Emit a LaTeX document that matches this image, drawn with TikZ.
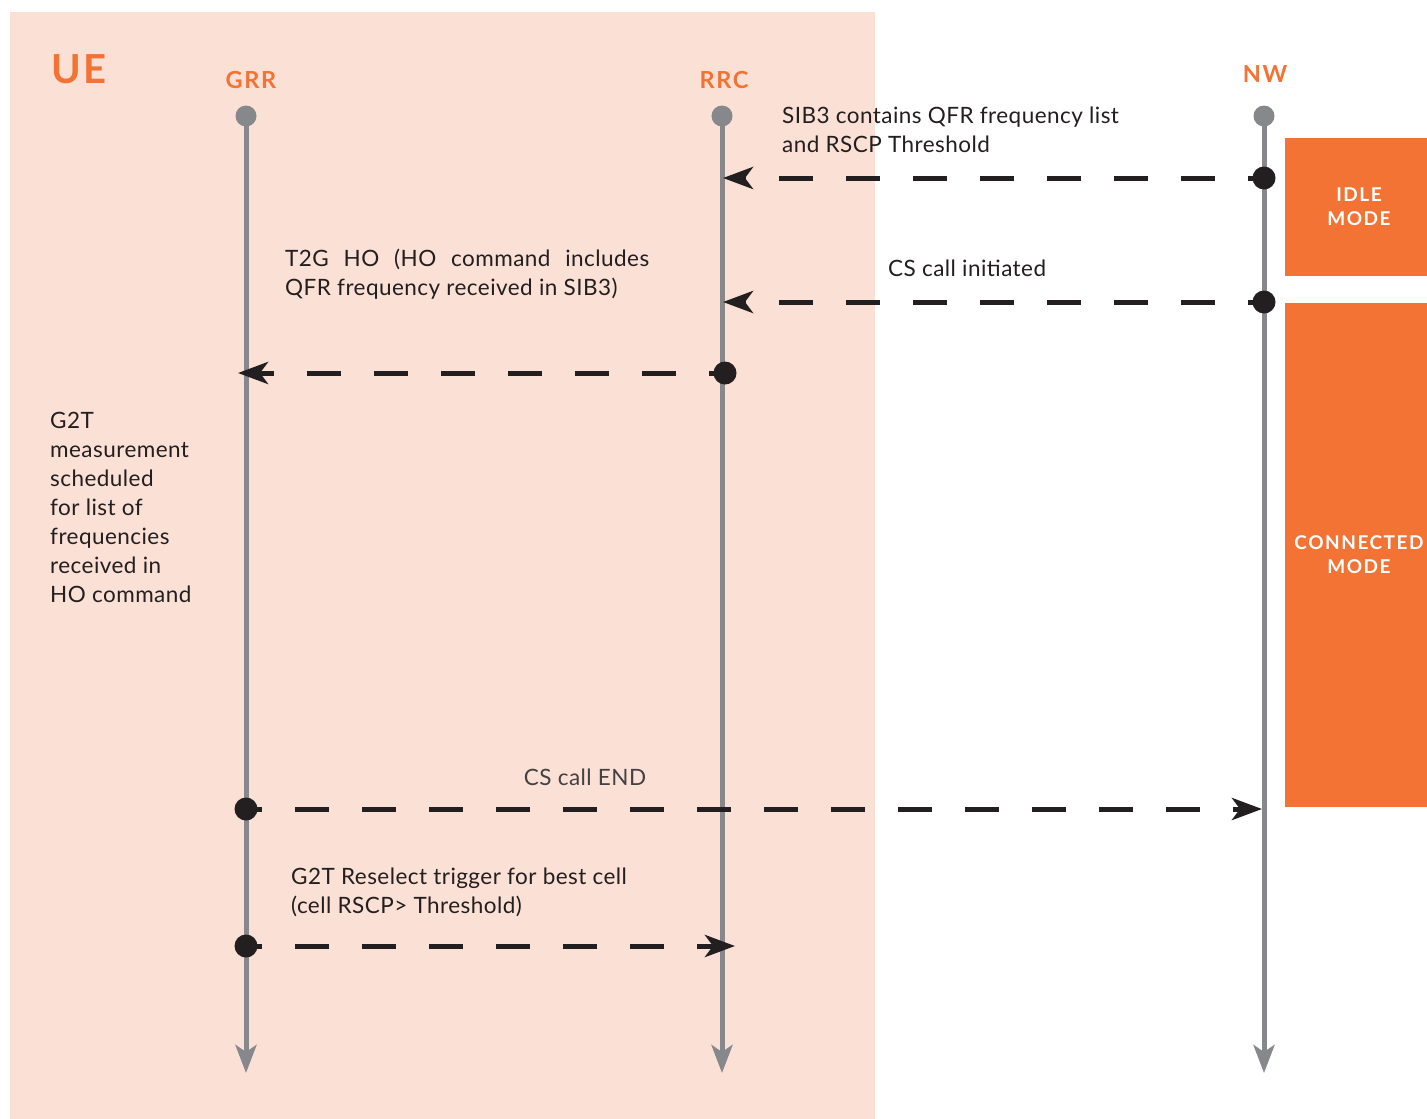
\documentclass[tikz,border=0pt]{standalone}
\usepackage{fontspec}
\setmainfont{Lato}[LetterSpace=2]
\usetikzlibrary{arrows.meta}
\definecolor{peach}{HTML}{FBE0D6}
\definecolor{uorange}{HTML}{F37335}
\definecolor{lgray}{HTML}{87888C}
\definecolor{ink}{HTML}{231F20}
\begin{document}
\begin{tikzpicture}[x=1pt,y=-1pt,
  lifeline/.style={draw=lgray, line width=5pt, -{Stealth[length=28pt,width=21pt,inset=7pt]}},
  headdot/.style={circle, fill=lgray, minimum size=21pt, inner sep=0pt},
  msg/.style={draw=ink, line width=5pt, dash pattern=on 34pt off 33pt, dash phase=18pt, -{Stealth[length=30pt,width=22pt,inset=8pt]}},
  msgdot/.style={circle, fill=ink, minimum size=23pt, inner sep=0pt},
  txt/.style={anchor=north west, inner sep=0pt, align=left, text=ink, font=\fontsize{22.5}{29}\selectfont},
  head/.style={anchor=base, inner sep=0pt, text=uorange, font=\fontsize{23.5}{28}\selectfont\bfseries\addfontfeature{LetterSpace=7}},
  modebox/.style={fill=uorange, text=white, inner sep=0pt, minimum width=142pt, align=center, font=\fontsize{19}{24}\selectfont\bfseries\addfontfeature{LetterSpace=8}}
]
\useasboundingbox (0,0) rectangle (1427,1119);
\fill[white] (0,0) rectangle (1427,1119);
\fill[peach] (10,12) rectangle (875,1119);

% headers
\node[anchor=base west, inner sep=0pt, text=uorange, font=\fontsize{40}{48}\selectfont\bfseries\addfontfeature{LetterSpace=6}] (ue) at (51,83) {UE};
\node[head] (grrlabel) at (251,88) {GRR};
\node[head] (rrclabel) at (724,88) {RRC};
\node[head] (nwlabel) at (1265,82) {NW};

% lifelines
\coordinate (grrtop) at (246,116);
\coordinate (rrctop) at (722,116);
\coordinate (nwtop) at (1264,116);
\coordinate (grrend) at (246,1073);
\coordinate (rrcend) at (722,1073);
\coordinate (nwend) at (1264,1073);
\draw[lifeline] (grrtop) -- (grrend);
\draw[lifeline] (rrctop) -- (rrcend);
\draw[lifeline] (nwtop) -- (nwend);
\node[headdot] (grrhead) at (grrtop) {};
\node[headdot] (rrchead) at (rrctop) {};
\node[headdot] (nwhead) at (nwtop) {};

% mode boxes
\node[modebox, minimum height=138pt] (idle) at (1356,207) {\hspace*{6pt}IDLE\\\hspace*{6pt}MODE};
\node[modebox, minimum height=504pt] (connected) at (1356,555) {\hspace*{6pt}CONNECTED\\\hspace*{6pt}MODE};

% message endpoints
\coordinate (n1) at (1264,178);
\coordinate (r1) at (723,178);
\coordinate (n2) at (1264,302);
\coordinate (r2) at (723,302);
\coordinate (r3) at (725,373);
\coordinate (g3) at (238,373);
\coordinate (g4) at (246,809);
\coordinate (n4) at (1262,809);
\coordinate (g5) at (246,946);
\coordinate (r5) at (735,946);

\draw[msg] (n1) -- (r1);
\draw[msg] (n2) -- (r2);
\draw[msg] (r3) -- (g3);
\draw[msg] (g4) -- (n4);
\draw[msg] (g5) -- (r5);
\node[msgdot] (n1dot) at (n1) {};
\node[msgdot] (n2dot) at (n2) {};
\node[msgdot] (r3dot) at (r3) {};
\node[msgdot] (g4dot) at (g4) {};
\node[msgdot] (g5dot) at (g5) {};

% labels
\node[txt] (sib3) at (782,102.7) {\strut SIB3 contains QFR frequency list\\and RSCP Threshold};
\node[txt] (csinit) at (888,255.7) {\strut CS call initiated};
\node[txt] (t2g) at (285,245.7) {\strut\makebox[364pt][s]{T2G HO (HO command includes}\\QFR frequency received in SIB3)};
\node[anchor=base, inner sep=0pt, text=ink!85, font=\fontsize{22.5}{29}\selectfont] (csend) at (585,785) {CS call END};
\node[txt] (g2tres) at (291,863.7) {\strut G2T Reselect trigger for best cell\\(cell RSCP> Threshold)};
\node[txt] (g2tmeas) at (50,407.7) {\strut G2T\\measurement\\scheduled\\for list of\\frequencies\\received in\\HO command};
\end{tikzpicture}
\end{document}
